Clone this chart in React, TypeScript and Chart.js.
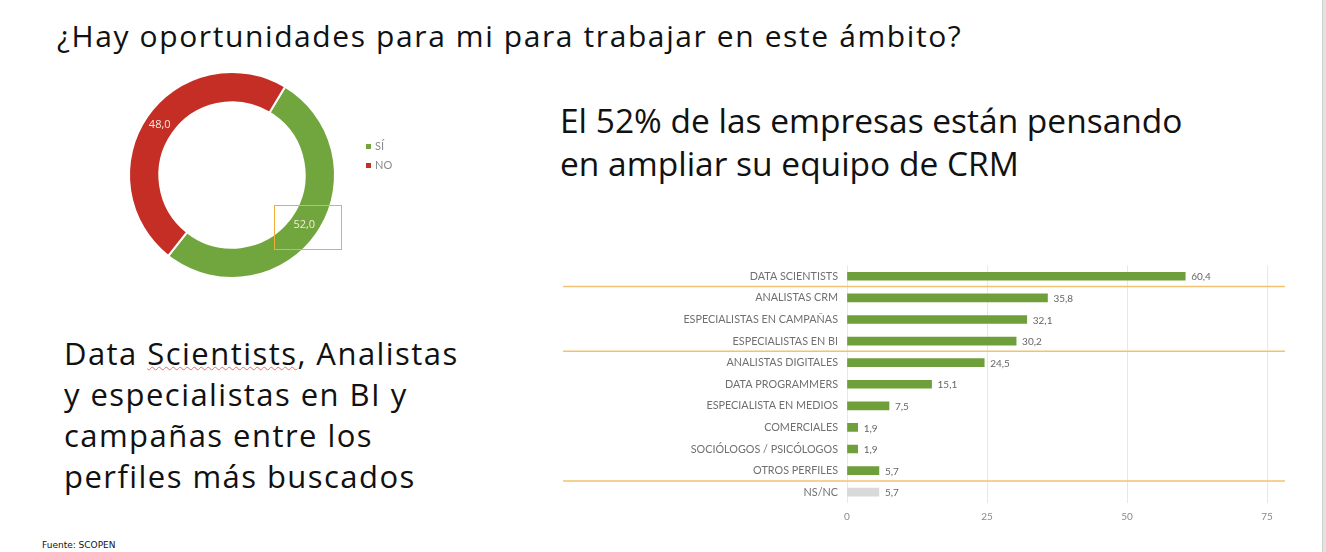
import React, { useEffect, useRef } from "react";
import { Chart, registerables } from "chart.js";

Chart.register(...registerables);

const donutLabels = ["SÍ", "NO"];
const donutValues = [52.0, 48.0];
const donutColors = ["#70a63d", "#c42e25"];

const barCategories = [
  "DATA SCIENTISTS",
  "ANALISTAS CRM",
  "ESPECIALISTAS EN CAMPAÑAS",
  "ESPECIALISTAS EN BI",
  "ANALISTAS DIGITALES",
  "DATA PROGRAMMERS",
  "ESPECIALISTA EN MEDIOS",
  "COMERCIALES",
  "SOCIÓLOGOS / PSICÓLOGOS",
  "OTROS PERFILES",
  "NS/NC",
];
const barValues = [60.4, 35.8, 32.1, 30.2, 24.5, 15.1, 7.5, 1.9, 1.9, 5.7, 5.7];
const barColors = barValues.map((_, i) => (i === barValues.length - 1 ? "#d9d9d9" : "#6e9f3a"));
const separatorsAfter = [0, 3, 9];
const xTicks = [0, 25, 50, 75];

const fmt = (v: number) => v.toFixed(1).replace(".", ",");

const donutLabelPlugin = {
  id: "donutLabels",
  afterDatasetsDraw(chart: any) {
    const ctx = chart.ctx;
    const meta = chart.getDatasetMeta(0);
    ctx.save();
    ctx.font = "11px 'Open Sans'";
    ctx.fillStyle = "#f6ebe0";
    ctx.textAlign = "center";
    ctx.textBaseline = "middle";
    meta.data.forEach((arc: any, i: number) => {
      const p = arc.tooltipPosition();
      ctx.fillText(fmt(donutValues[i]), p.x, p.y);
    });
    ctx.restore();
  },
};

const barLabelPlugin = {
  id: "barLabels",
  afterDatasetsDraw(chart: any) {
    const ctx = chart.ctx;
    const meta = chart.getDatasetMeta(0);
    ctx.save();
    ctx.font = "10px Lato";
    ctx.fillStyle = "#666";
    ctx.textAlign = "left";
    ctx.textBaseline = "middle";
    meta.data.forEach((bar: any, i: number) => {
      ctx.fillText(fmt(barValues[i]), bar.x + 6, bar.y + 1);
    });
    const ys = chart.scales.y;
    ctx.strokeStyle = "#f3c270";
    ctx.lineWidth = 1.5;
    separatorsAfter.forEach((i) => {
      const y = (ys.getPixelForValue(i) + ys.getPixelForValue(i + 1)) / 2 - 0.5;
      ctx.beginPath();
      ctx.moveTo(0, y);
      ctx.lineTo(chart.width, y);
      ctx.stroke();
    });
    ctx.restore();
  },
};

export default function App() {
  const donutRef = useRef<HTMLCanvasElement>(null);
  const barRef = useRef<HTMLCanvasElement>(null);

  useEffect(() => {
    const donut = new Chart(donutRef.current!, {
      type: "doughnut",
      data: {
        labels: donutLabels,
        datasets: [
          {
            data: donutValues,
            backgroundColor: donutColors,
            borderColor: "#ffffff",
            borderWidth: 2,
          },
        ],
      },
      options: {
        animation: false,
        responsive: true,
        maintainAspectRatio: false,
        radius: 103,
        cutout: 79,
        rotation: 31,
        plugins: { legend: { display: false }, tooltip: { enabled: false } },
      } as any,
      plugins: [donutLabelPlugin],
    });

    const bar = new Chart(barRef.current!, {
      type: "bar",
      data: {
        labels: barCategories,
        datasets: [
          {
            data: barValues,
            backgroundColor: barColors,
            barThickness: 8,
          },
        ],
      },
      options: {
        animation: false,
        responsive: true,
        maintainAspectRatio: false,
        indexAxis: "y",
        layout: { padding: { top: 15, right: 18, left: 0, bottom: 0 } },
        plugins: { legend: { display: false }, tooltip: { enabled: false } },
        scales: {
          y: {
            grid: { display: false, drawTicks: false },
            border: { display: false },
            ticks: { font: { family: "Lato", size: 10.8 }, color: "#707070", padding: 9 },
            afterFit: (s: any) => {
              s.width = 284;
            },
          },
          x: {
            min: 0,
            max: 75,
            grid: { color: "#e8e8e8", drawTicks: false },
            border: { display: false },
            ticks: {
              stepSize: 25,
              font: { family: "Lato", size: 10 },
              color: "#8a8a8a",
              padding: 8,
              callback: (v: any) => (xTicks.includes(Number(v)) ? String(v) : ""),
            },
            afterFit: (s: any) => {
              s.height = 27;
            },
          },
        },
      } as any,
      plugins: [barLabelPlugin],
    });

    return () => {
      donut.destroy();
      bar.destroy();
    };
  }, []);

  const txt: React.CSSProperties = {
    position: "absolute",
    fontFamily: "'Open Sans', sans-serif",
    color: "#111",
    whiteSpace: "nowrap",
    margin: 0,
  };

  return (
    <div
      style={{
        position: "fixed",
        left: 0,
        top: 0,
        width: 1326,
        height: 552,
        background: "#fff",
        overflow: "hidden",
      }}
    >
      <div
        style={{ ...txt, left: 57, top: 15, fontSize: 30, lineHeight: "42px", letterSpacing: "1.6px" }}
      >
        ¿Hay oportunidades para mi para trabajar en este ámbito?
      </div>

      <div style={{ position: "absolute", left: 119, top: 62, width: 226, height: 226 }}>
        <canvas ref={donutRef} />
      </div>
      <div
        style={{
          position: "absolute",
          left: 274,
          top: 205,
          width: 66,
          height: 43,
          border: "1.5px solid #efae38",
        }}
      />
      {donutLabels.map((l, i) => (
        <div
          key={l}
          style={{
            position: "absolute",
            left: 366,
            top: 139 + i * 19,
            fontFamily: "Lato, sans-serif",
            fontSize: 11,
            color: "#8a8a8a",
            lineHeight: "14px",
            display: "flex",
            alignItems: "center",
          }}
        >
          <span
            style={{
              display: "inline-block",
              width: 5,
              height: 5,
              background: donutColors[i],
              marginRight: 4,
            }}
          />
          {l}
        </div>
      ))}

      <div style={{ ...txt, left: 560, top: 99, fontSize: 33.5, lineHeight: "43px" }}>
        El 52% de las empresas están pensando
        <br />
        en ampliar su equipo de CRM
      </div>

      <div
        style={{ ...txt, left: 64, top: 333, fontSize: 31, lineHeight: "41px", letterSpacing: "1.45px" }}
      >
        Data{" "}
        <span
          style={{
            textDecorationLine: "underline",
            textDecorationStyle: "wavy",
            textDecorationColor: "#e07070",
            textDecorationThickness: 1,
          }}
        >
          Scientists
        </span>
        , Analistas
        <br />y especialistas en BI y
        <br />
        campañas entre los
        <br />
        perfiles más buscados
      </div>

      <div
        style={{
          ...txt,
          left: 42,
          top: 539,
          fontSize: 9,
          lineHeight: "12px",
          fontFamily: "'DejaVu Sans', sans-serif",
        }}
      >
        Fuente: SCOPEN
      </div>

      <div style={{ position: "absolute", left: 563, top: 250, width: 722, height: 280 }}>
        <canvas ref={barRef} />
      </div>

      <div
        style={{
          position: "absolute",
          left: 1322,
          top: 0,
          width: 4,
          height: 552,
          background: "#e2e2e2",
          borderLeft: "1px solid #d0d0d0",
        }}
      />
    </div>
  );
}
